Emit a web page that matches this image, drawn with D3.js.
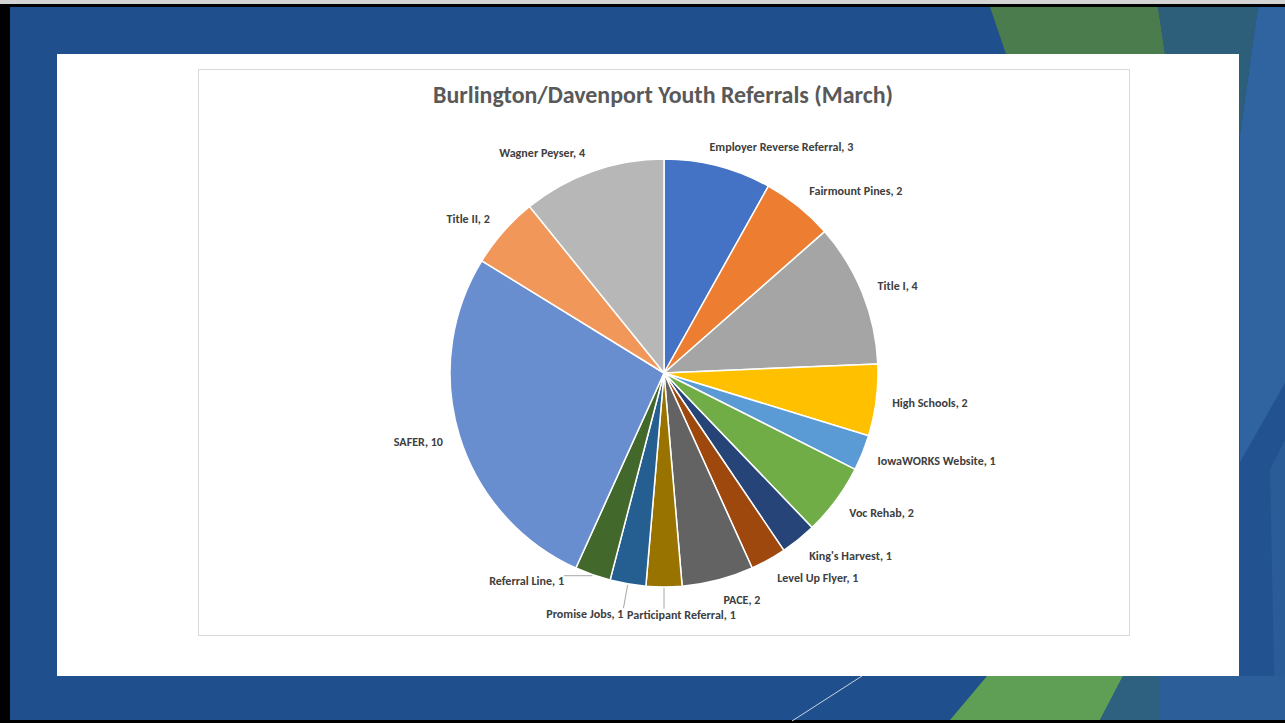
<!DOCTYPE html>
<html><head><meta charset="utf-8">
<script src="https://cdn.jsdelivr.net/npm/d3@7"></script>
<style>html,body{margin:0;padding:0;background:#fff;overflow:hidden}</style>
</head><body>
<svg id="c" width="1285" height="723"></svg>
<script>
// ---- data ----
const chartTitle = "Burlington/Davenport Youth Referrals (March)";
const categories = ["Employer Reverse Referral","Fairmount Pines","Title I","High Schools","IowaWORKS Website","Voc Rehab","King's Harvest","Level Up Flyer","PACE","Participant Referral","Promise Jobs","Referral Line","SAFER","Title II","Wagner Peyser"];
const values = [3,2,4,2,1,2,1,1,2,1,1,1,10,2,4];
const sliceColors = ["#4472C4","#ED7D31","#A5A5A5","#FFC000","#5B9BD5","#70AD47","#264478","#9E480E","#636363","#997300","#255E91","#43682B","#698ED0","#F1975A","#B7B7B7"];

// ---- layout ----
const W = 1285, H = 723;
const cx = 664, cy = 373, R = 214;
const labelR = R + 14;
// manual label moves (like Excel's dragged labels), relative px
const labelNudge = {"Employer Reverse Referral":[-14,0],"Participant Referral":[-39,7],"Promise Jobs":[1,10],"Referral Line":[-21,-13]};
const leaderFor = ["Participant Referral","Promise Jobs","Referral Line"];

const svg = d3.select("#c");

// slide background
svg.append("rect").attr("x",0).attr("y",0).attr("width",W).attr("height",H).attr("fill","#000");
svg.append("rect").attr("x",0).attr("y",0).attr("width",W).attr("height",4).attr("fill","#d4d4d4");
svg.append("rect").attr("x",10).attr("y",7).attr("width",W-10).attr("height",713).attr("fill","#1F4F8D");
const poly = (pts, fill) => svg.append("polygon").attr("points", pts.map(p=>p.join(",")).join(" ")).attr("fill", fill);
// right strip
poly([[1239,7],[1285,7],[1285,720],[1239,720]], "#22528F");
poly([[1258,7],[1285,7],[1285,383],[1240,462],[1240,135]], "#2F64A0");
poly([[1270,470],[1285,440],[1285,720],[1275,720]], "#2A5C98");
// top decorations
poly([[990,7],[1158,7],[1165,54],[1006,54]], "#4A7C4E");
poly([[1158,7],[1258,7],[1240,135],[1239,135],[1239,54],[1165,54]], "#2E5F7A");
// bottom decorations
poly([[1157,676],[1285,676],[1285,720],[1157,720]], "#2C5E9A");
poly([[987,676],[1123,676],[1100,720],[950,720]], "#5E9E55");
poly([[1123,676],[1160,676],[1160,720],[1100,720]], "#2E6180");
svg.append("line").attr("x1",792).attr("y1",721).attr("x2",862).attr("y2",676).attr("stroke","#c8d3e3").attr("stroke-width",1);
// white content box
svg.append("rect").attr("x",57).attr("y",54).attr("width",1182).attr("height",622).attr("fill","#fff");
// chart area
svg.append("rect").attr("x",198.5).attr("y",69.5).attr("width",931).attr("height",566).attr("fill","#fff").attr("stroke","#D9D9D9").attr("stroke-width",1);

const FONT = "Carlito, Calibri, Lato, 'Open Sans', sans-serif";

// title
const t = svg.append("text").attr("x",663).attr("y",103).attr("text-anchor","middle")
  .attr("font-family",FONT).attr("font-weight","bold").attr("font-size",20)
  .attr("fill","#595959").text(chartTitle);
{
  const w = t.node().getComputedTextLength();
  t.attr("font-size", 20*460/w);
}

// pie
const data = categories.map((c,i)=>({name:c, value:values[i], color:sliceColors[i]}));
const pie = d3.pie().sort(null).value(d=>d.value).startAngle(0).endAngle(2*Math.PI);
const arcs = pie(data);
const arc = d3.arc().innerRadius(0).outerRadius(R);
const g = svg.append("g").attr("transform",`translate(${cx},${cy})`);
g.selectAll("path").data(arcs).join("path")
  .attr("d",arc).attr("fill",d=>d.data.color)
  .attr("stroke","#fff").attr("stroke-width",1.5).attr("stroke-linejoin","round");

// label font size calibrated on the widest label
let labelSize = 11;
{
  const probe = svg.append("text").attr("font-family",FONT).attr("font-weight","bold").attr("font-size",11)
    .text(categories[0]+", "+values[0]);
  const w = probe.node().getComputedTextLength();
  labelSize = 11*144/w;
  probe.remove();
}

const lg = svg.append("g");
arcs.forEach(a=>{
  const m = (a.startAngle+a.endAngle)/2;
  const s = Math.sin(m), c = Math.cos(m);
  const px = cx + labelR*s, py = cy - labelR*c;
  const right = s > -1e-6;
  let x = right ? px+2 : px-3;
  let y = py - 6*c;
  const nudge = labelNudge[a.data.name];
  if (nudge){ x += nudge[0]; y += nudge[1]; }
  const txt = lg.append("text").attr("x",x).attr("y",y)
    .attr("text-anchor", right ? "start" : "end")
    .attr("dominant-baseline","central")
    .attr("font-family",FONT).attr("font-weight","bold").attr("font-size",labelSize)
    .attr("fill","#404040").text(a.data.name+", "+a.data.value);
  if (leaderFor.includes(a.data.name)){
    const bb = txt.node().getBBox();
    const ax = cx + (R+1)*s, ay = cy - (R+1)*c;
    const bx = Math.max(bb.x, Math.min(ax, bb.x+bb.width));
    const by = Math.max(bb.y+2, Math.min(ay, bb.y+bb.height-2));
    lg.append("line").attr("x1",ax).attr("y1",ay).attr("x2",bx).attr("y2",by)
      .attr("stroke","#A6A6A6").attr("stroke-width",1);
  }
});
</script>
</body></html>
